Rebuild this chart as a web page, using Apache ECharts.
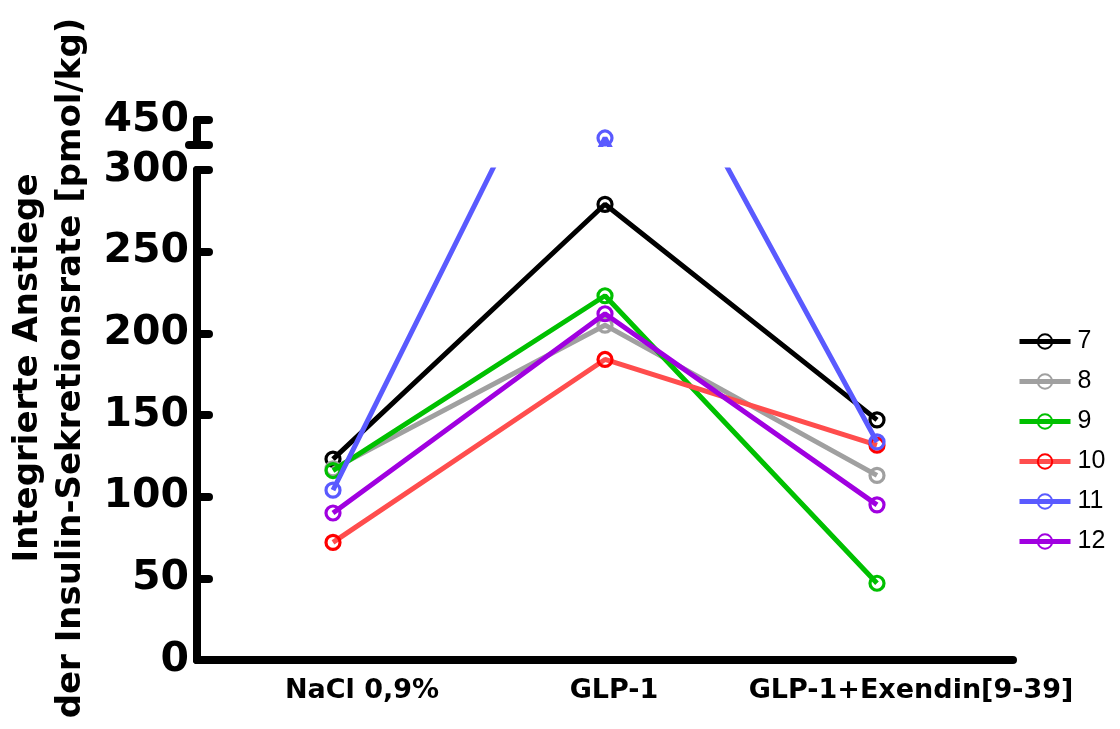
<!DOCTYPE html>
<html>
<head>
<meta charset="utf-8">
<script src="https://cdn.jsdelivr.net/npm/echarts@6/dist/echarts.min.js"></script>
<style>
html,body{margin:0;padding:0;background:#fff;}
#chart{width:1120px;height:729px;}
</style>
</head>
<body>
<div id="chart"></div>
<script>
// ---- data ----
const categories = ['NaCl 0,9%', 'GLP-1', 'GLP-1+Exendin[9-39]'];
const seriesNames = ['7', '8', '9', '10', '11', '12'];
const s7  = [123, 279, 147];
const s8  = [117, 205, 113];
const s9  = [116, 223, 47];
const s10 = [72, 184, 131.5];
const s11 = [104, 439, 133.5];
const s12 = [90, 212, 95];
const yTicksLower = [0, 50, 100, 150, 200, 250, 300];
const yTickUpper = 450;
const breakStart = 300;
const breakEnd = 435;

const seriesValues = [s7, s8, s9, s10, s11, s12];
const lineColors   = ['#000000', '#a0a0a0', '#00c000', '#ff4d4d', '#5a5aff', '#a000e0'];
const markerColors = ['#000000', '#a0a0a0', '#00c000', '#ff0000', '#5a5aff', '#a000e0'];

const chart = echarts.init(document.getElementById('chart'), null, {renderer: 'canvas'});

const FONT = '"DejaVu Sans", Verdana, sans-serif';
const axisLineStyle = {color: '#000', width: 8, cap: 'round'};
const labelPad = [58, 18, 68];

const series = [];
[0, 1].forEach(function (g) {
  seriesValues.forEach(function (vals, i) {
    series.push({
      type: 'line',
      name: seriesNames[i],
      xAxisIndex: g,
      yAxisIndex: g,
      data: vals,
      clip: true,
      symbol: 'circle',
      symbolSize: 14,
      showAllSymbol: true,
      lineStyle: {color: lineColors[i], width: 5},
      itemStyle: {color: 'rgba(255,255,255,0)', borderColor: markerColors[i], borderWidth: 3.2},
      emphasis: {disabled: true},
      z: 2 + i
    });
  });
});

const richBase = {fontFamily: FONT, fontWeight: 'bold', fontSize: 27, color: '#000'};

const option = {
  animation: false,
  backgroundColor: '#fff',
  grid: [
    {left: 197, top: 170, width: 816, height: 490},
    {left: 197, top: 120, width: 816, height: 24.5}
  ],
  xAxis: [
    {
      type: 'category', gridIndex: 0, data: categories, boundaryGap: true,
      axisLine: {lineStyle: axisLineStyle},
      axisTick: {inside: true, alignWithLabel: true, length: 12, lineStyle: {color: '#000', width: 8, cap: 'round'}},
      axisLabel: {
        interval: 0,
        hideOverlap: false,
        margin: 17,
        color: '#000',
        fontFamily: FONT, fontWeight: 'bold', fontSize: 27,
        formatter: function (v, idx) { return '{c' + idx + '|' + v + '}'; },
        rich: {
          c0: Object.assign({padding: [0, 0, 0, labelPad[0]]}, richBase),
          c1: Object.assign({padding: [0, 0, 0, labelPad[1]]}, richBase),
          c2: Object.assign({padding: [0, 0, 0, labelPad[2]]}, richBase)
        }
      },
      splitLine: {show: false}
    },
    {
      type: 'category', gridIndex: 1, data: categories, boundaryGap: true, show: false
    }
  ],
  yAxis: [
    {
      type: 'value', gridIndex: 0, position: 'left', min: yTicksLower[0], max: breakStart, interval: 50,
      axisLine: {show: true, lineStyle: axisLineStyle},
      axisTick: {show: true, inside: true, length: 12, lineStyle: {color: '#000', width: 8, cap: 'round'}},
      axisLabel: {margin: 8, color: '#000', fontFamily: FONT, fontWeight: 'bold', fontSize: 41},
      splitLine: {show: false}
    },
    {
      type: 'value', gridIndex: 1, position: 'left', min: breakEnd, max: yTickUpper, interval: yTickUpper - breakEnd,
      axisLine: {show: true, lineStyle: axisLineStyle},
      axisTick: {show: true, inside: true, length: 12, lineStyle: {color: '#000', width: 8, cap: 'round'}},
      axisLabel: {
        margin: 8, color: '#000', fontFamily: FONT, fontWeight: 'bold', fontSize: 41,
        formatter: function (v) { return v === yTickUpper ? String(v) : ''; }
      },
      splitLine: {show: false}
    },
    {
      type: 'value', gridIndex: 1, position: 'left', offset: 0, min: breakEnd, max: yTickUpper, interval: yTickUpper - breakEnd,
      axisLine: {show: false},
      axisTick: {show: true, inside: false, length: 8, customValues: [breakEnd], lineStyle: {color: '#000', width: 8, cap: 'round'}},
      axisLabel: {show: false},
      splitLine: {show: false}
    }
  ],
  legend: {
    orient: 'vertical',
    left: 1017, top: 329,
    padding: 0,
    itemWidth: 51, itemHeight: 18, itemGap: 15,
    data: seriesNames,
    lineStyle: {width: 5},
    textStyle: {fontFamily: '"Liberation Sans", Arial, sans-serif', fontSize: 25, color: '#000', lineHeight: 24, padding: [0, 0, 0, 2]},
    selectedMode: false
  },
  graphic: [
    {
      type: 'text', x: 50, y: 368, rotation: Math.PI / 2,
      style: {
        text: 'Integrierte Anstiege\nder Insulin-Sekretionsrate [pmol/kg)',
        fontFamily: FONT, fontWeight: 'bold', fontSize: 34, lineHeight: 43,
        fill: '#000', align: 'center', verticalAlign: 'middle'
      }
    }
  ],
  series: series
};
chart.setOption(option);
</script>
</body>
</html>
